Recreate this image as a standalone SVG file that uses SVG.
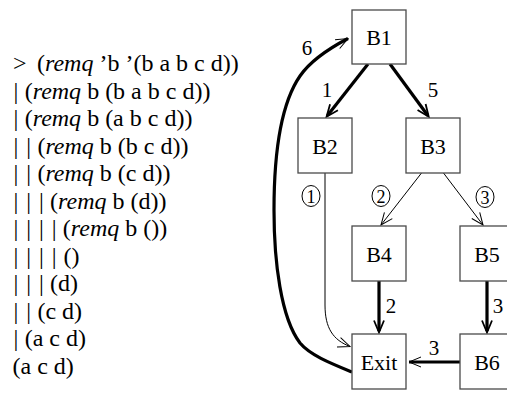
<svg xmlns="http://www.w3.org/2000/svg" width="507" height="397" viewBox="0 0 507 397">
<style>
  .t { font-family: "Liberation Serif", "Times New Roman", serif; font-size: 24px; fill: #000; }
  .i { font-style: italic; }
  .box { fill: #fff; stroke: #4a4a4a; stroke-width: 1.3; }
  .bl { font-family: "Liberation Serif", "Times New Roman", serif; font-size: 22px; fill: #000; text-anchor: middle; }
  .el { font-family: "Liberation Serif", "Times New Roman", serif; font-size: 21px; fill: #000; text-anchor: middle; }
  .cl { font-family: "Liberation Serif", "Times New Roman", serif; font-size: 18px; fill: #000; text-anchor: middle; }
  .circ { fill: none; stroke: #000; stroke-width: 1; }
  .thick { fill: none; stroke: #000; stroke-width: 3.2; }
  .thin { fill: none; stroke: #000; stroke-width: 1; }
</style>
<defs>
  <marker id="ah" markerUnits="userSpaceOnUse" viewBox="-14 -7 16 14" refX="0" refY="0" markerWidth="16" markerHeight="14" orient="auto" overflow="visible">
    <path d="M-12,-5 L0,0 L-12,5" fill="none" stroke="#000" stroke-width="1"/>
  </marker>
  <marker id="ahk" markerUnits="userSpaceOnUse" viewBox="-14 -7 16 14" refX="-1.5" refY="0" markerWidth="16" markerHeight="14" orient="auto" overflow="visible">
    <path d="M-12,-5 L0,0 L-12,5" fill="none" stroke="#000" stroke-width="1.8"/>
  </marker>
</defs>

<g id="trace">
  <text class="t" y="71"><tspan x="13">&gt;</tspan><tspan x="37">(<tspan class="i">remq</tspan> ’b ’(b a b c d))</tspan></text>
  <text class="t" y="98.5"><tspan x="13.6">|</tspan><tspan x="24.7">(<tspan class="i">remq</tspan> b (b a b c d))</tspan></text>
  <text class="t" y="126"><tspan x="13.6">|</tspan><tspan x="24.7">(<tspan class="i">remq</tspan> b (a b c d))</tspan></text>
  <text class="t" y="153.5"><tspan x="13.6">|</tspan><tspan x="26.3">|</tspan><tspan x="37.4">(<tspan class="i">remq</tspan> b (b c d))</tspan></text>
  <text class="t" y="181"><tspan x="13.6">|</tspan><tspan x="26.3">|</tspan><tspan x="37.4">(<tspan class="i">remq</tspan> b (c d))</tspan></text>
  <text class="t" y="208.5"><tspan x="13.6">|</tspan><tspan x="26.3">|</tspan><tspan x="39">|</tspan><tspan x="50.1">(<tspan class="i">remq</tspan> b (d))</tspan></text>
  <text class="t" y="236"><tspan x="13.6">|</tspan><tspan x="26.3">|</tspan><tspan x="39">|</tspan><tspan x="51.7">|</tspan><tspan x="62.8">(<tspan class="i">remq</tspan> b ())</tspan></text>
  <text class="t" y="263.5"><tspan x="13.6">|</tspan><tspan x="26.3">|</tspan><tspan x="39">|</tspan><tspan x="51.7">|</tspan><tspan x="63.5">()</tspan></text>
  <text class="t" y="291"><tspan x="13.6">|</tspan><tspan x="26.3">|</tspan><tspan x="39">|</tspan><tspan x="50.1">(d)</tspan></text>
  <text class="t" y="318.5"><tspan x="13.6">|</tspan><tspan x="26.3">|</tspan><tspan x="37.4">(c d)</tspan></text>
  <text class="t" y="346"><tspan x="13.6">|</tspan><tspan x="24.7">(a c d)</tspan></text>
  <text class="t" y="373.5"><tspan x="12.5">(a c d)</tspan></text>
</g>

<g id="connectors">
  <line class="thick" x1="368" y1="64" x2="327.5" y2="115.5" marker-end="url(#ahk)"/>
  <line class="thick" x1="390" y1="64" x2="427.8" y2="115.5" marker-end="url(#ahk)"/>
  <path class="thin" d="M325,173 L325,305 C325,328 333,340 350,346.5" marker-end="url(#ah)"/>
  <line class="thin" x1="421.5" y1="173" x2="381" y2="225" marker-end="url(#ah)"/>
  <line class="thin" x1="443.5" y1="173" x2="483" y2="225" marker-end="url(#ah)"/>
  <line class="thick" x1="379" y1="281" x2="379" y2="331" marker-end="url(#ahk)"/>
  <line class="thick" x1="487" y1="281" x2="487" y2="331" marker-end="url(#ahk)"/>
  <line class="thick" x1="460" y1="362" x2="409" y2="362" marker-end="url(#ah)"/>
  <path class="thick" d="M352,372 C330,363 310,355 300,343 C281,318 274,262 274,210 C274,150 282,102 300,76 C311,60 328,49 348,38.5" marker-end="url(#ah)"/>
  <text class="el" x="327" y="97">1</text>
  <text class="el" x="433" y="97">5</text>
  <text class="el" x="307" y="55">6</text>
  <text class="el" x="391" y="313">2</text>
  <text class="el" x="498" y="313">3</text>
  <text class="el" x="434" y="355">3</text>
  <ellipse class="circ" cx="311" cy="196" rx="9" ry="10.5"/>
  <text class="cl" x="311" y="202.5">1</text>
  <ellipse class="circ" cx="381" cy="196" rx="9" ry="10.5"/>
  <text class="cl" x="381" y="202.5">2</text>
  <ellipse class="circ" cx="485" cy="197" rx="9" ry="10.5"/>
  <text class="cl" x="485" y="203.5">3</text>
</g>

<g id="B1"><rect class="box" x="352" y="10" width="54" height="54"/><text class="bl" x="379" y="45">B1</text></g>
<g id="B2"><rect class="box" x="298" y="118" width="54" height="55"/><text class="bl" x="325" y="153.5">B2</text></g>
<g id="B3"><rect class="box" x="406" y="118" width="54" height="55"/><text class="bl" x="433" y="153.5">B3</text></g>
<g id="B4"><rect class="box" x="352" y="226" width="54" height="55"/><text class="bl" x="379" y="261.5">B4</text></g>
<g id="B5"><rect class="box" x="460" y="226" width="54" height="55"/><text class="bl" x="487" y="261.5">B5</text></g>
<g id="Exit"><rect class="box" x="352" y="334" width="54" height="55"/><text class="bl" x="379" y="369.5">Exit</text></g>
<g id="B6"><rect class="box" x="460" y="334" width="54" height="55"/><text class="bl" x="487" y="369.5">B6</text></g>
</svg>
